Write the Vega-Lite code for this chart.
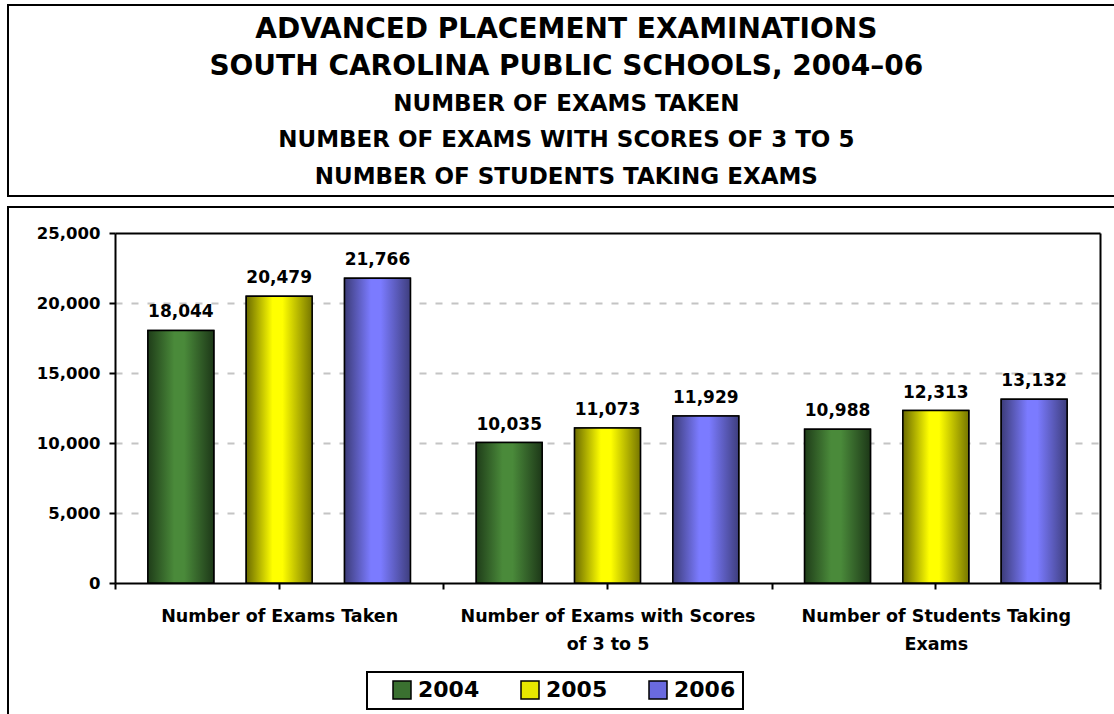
{
  "$schema": "https://vega.github.io/schema/vega-lite/v6.json",
  "padding": {"left": 7, "top": 4, "right": 0, "bottom": 0},
  "background": "white",
  "config": {
    "font": "DejaVu Sans",
    "view": {"stroke": "black", "strokeWidth": 2},
    "legend": {"strokeWidth": 2}
  },
  "datasets": {
    "titles": [
      {"line": 1, "level": "main", "text": "ADVANCED PLACEMENT EXAMINATIONS"},
      {"line": 2, "level": "main", "text": "SOUTH CAROLINA PUBLIC SCHOOLS, 2004–06"},
      {"line": 3, "level": "sub", "text": "NUMBER OF EXAMS TAKEN"},
      {"line": 4, "level": "sub", "text": "NUMBER OF EXAMS WITH SCORES OF 3 TO 5"},
      {"line": 5, "level": "sub", "text": "NUMBER OF STUDENTS TAKING EXAMS"}
    ],
    "ap": [
      {"cat": "Number of Exams Taken", "year": "2004", "value": 18044},
      {"cat": "Number of Exams Taken", "year": "2005", "value": 20479},
      {"cat": "Number of Exams Taken", "year": "2006", "value": 21766},
      {"cat": "Number of Exams with Scores of 3 to 5", "year": "2004", "value": 10035},
      {"cat": "Number of Exams with Scores of 3 to 5", "year": "2005", "value": 11073},
      {"cat": "Number of Exams with Scores of 3 to 5", "year": "2006", "value": 11929},
      {"cat": "Number of Students Taking Exams", "year": "2004", "value": 10988},
      {"cat": "Number of Students Taking Exams", "year": "2005", "value": 12313},
      {"cat": "Number of Students Taking Exams", "year": "2006", "value": 13132}
    ]
  },
  "spacing": 9,
  "vconcat": [
    {
      "width": 1110,
      "height": 191,
      "data": {"name": "titles"},
      "layer": [
        {
          "transform": [{"filter": "datum.level == 'main'"}],
          "mark": {"type": "text", "fontSize": 28, "fontWeight": "bold", "baseline": "middle", "dy": 3, "color": "black"},
          "encoding": {
            "x": {"datum": 0.503, "type": "quantitative", "scale": {"domain": [0, 1]}, "axis": null},
            "y": {"field": "line", "type": "ordinal", "scale": {"type": "point", "padding": 0.6}, "axis": null},
            "text": {"field": "text"}
          }
        },
        {
          "transform": [{"filter": "datum.level == 'sub'"}],
          "mark": {"type": "text", "fontSize": 23, "fontWeight": "bold", "baseline": "middle", "dy": 3, "color": "black"},
          "encoding": {
            "x": {"datum": 0.503, "type": "quantitative", "scale": {"domain": [0, 1]}, "axis": null},
            "y": {"field": "line", "type": "ordinal", "axis": null},
            "text": {"field": "text"}
          }
        }
      ]
    },
    {
      "width": 1110,
      "height": 512,
      "data": {"name": "ap"},
      "resolve": {"axis": {"x": "independent", "y": "independent"}},
      "layer": [
        {
          "mark": {"type": "bar", "stroke": "black", "strokeWidth": 1.5},
          "encoding": {
            "x": {
              "field": "cat", "type": "nominal",
              "sort": ["Number of Exams Taken", "Number of Exams with Scores of 3 to 5", "Number of Students Taking Exams"],
              "scale": {"range": [107, 1092], "paddingInner": 0, "paddingOuter": 0},
              "axis": {
                "title": null, "orient": "bottom", "offset": -136,
                "domainColor": "black", "domainWidth": 2,
                "tickColor": "black", "tickWidth": 2, "tickSize": 6, "tickBand": "extent",
                "labelFont": "DejaVu Sans", "labelFontWeight": "bold", "labelFontSize": 17.5, "labelColor": "black",
                "labelPadding": 18, "labelLineHeight": 28, "labelAngle": 0, "labelLimit": 400,
                "labelExpr": "datum.value == 'Number of Exams with Scores of 3 to 5' ? ['Number of Exams with Scores', 'of 3 to 5'] : datum.value == 'Number of Students Taking Exams' ? ['Number of Students Taking', 'Exams'] : datum.label"
              }
            },
            "xOffset": {"field": "year", "type": "nominal", "scale": {"paddingInner": 0.33, "paddingOuter": 0.335}},
            "y": {
              "field": "value", "type": "quantitative",
              "scale": {"domain": [0, 25000], "range": [376, 26], "nice": false},
              "axis": {
                "title": null, "orient": "left", "offset": -107,
                "values": [0, 5000, 10000, 15000, 20000, 25000], "format": ",d",
                "domainColor": "black", "domainWidth": 2,
                "tickColor": "black", "tickWidth": 2, "tickSize": 6,
                "labelFontSize": 16.5, "labelFontWeight": "bold", "labelColor": "black", "labelPadding": 9,
                "grid": true, "gridColor": "#c4c4c4", "gridDash": [7, 9], "gridWidth": 2,
                "gridOpacity": {"condition": {"test": "datum.value == 0 || datum.value == 25000", "value": 0}, "value": 1}
              }
            },
            "fill": {
              "field": "year", "type": "nominal",
              "scale": {"domain": ["2004", "2005", "2006"], "range": ["#3a7030", "#e6e600", "#6a6ae0"]},
              "legend": {
                "orient": "none", "legendX": 359, "legendY": 667, "direction": "horizontal",
                "title": " ", "titleOrient": "left", "titleFontSize": 10, "titlePadding": 17,
                "symbolType": "square", "symbolSize": 324, "symbolStrokeColor": "black", "symbolStrokeWidth": 1.5,
                "labelFontSize": 22, "labelFontWeight": "bold", "labelColor": "black", "labelOffset": 5,
                "labelExpr": "datum.label == '2006' ? '2006  ' : datum.label",
                "columnPadding": 38, "padding": 7, "strokeColor": "black"
              }
            }
          }
        },
        {
          "mark": {"type": "bar", "stroke": "black", "strokeWidth": 1.5},
          "encoding": {
            "x": {
              "field": "cat", "type": "nominal",
              "sort": ["Number of Exams Taken", "Number of Exams with Scores of 3 to 5", "Number of Students Taking Exams"],
              "axis": {"title": null, "orient": "bottom", "offset": -136, "domain": false, "labels": false, "ticks": true, "tickColor": "black", "tickWidth": 2, "tickSize": 6}
            },
            "xOffset": {"field": "year", "type": "nominal"},
            "y": {"field": "value", "type": "quantitative", "axis": null},
            "fill": {
              "condition": [
                {"test": "datum.year == '2004'", "value": {"gradient": "linear", "x1": 0, "y1": 0, "x2": 1, "y2": 0, "stops": [{"offset": 0, "color": "#1f3d19"}, {"offset": 0.4, "color": "#4a8a3a"}, {"offset": 0.55, "color": "#4a8a3a"}, {"offset": 1, "color": "#1d3818"}]}},
                {"test": "datum.year == '2005'", "value": {"gradient": "linear", "x1": 0, "y1": 0, "x2": 1, "y2": 0, "stops": [{"offset": 0, "color": "#6b6b00"}, {"offset": 0.4, "color": "#ffff00"}, {"offset": 0.55, "color": "#ffff00"}, {"offset": 1, "color": "#767600"}]}}
              ],
              "value": {"gradient": "linear", "x1": 0, "y1": 0, "x2": 1, "y2": 0, "stops": [{"offset": 0, "color": "#3c3c78"}, {"offset": 0.4, "color": "#7b7bff"}, {"offset": 0.55, "color": "#7b7bff"}, {"offset": 1, "color": "#3e3e7e"}]}
            }
          }
        },
        {
          "mark": {"type": "text", "fontSize": 17, "fontWeight": "bold", "baseline": "alphabetic", "dy": -13, "color": "black"},
          "encoding": {
            "x": {
              "field": "cat", "type": "nominal",
              "sort": ["Number of Exams Taken", "Number of Exams with Scores of 3 to 5", "Number of Students Taking Exams"],
              "axis": {"title": null, "orient": "top", "offset": -26, "ticks": false, "labels": false, "domainColor": "black", "domainWidth": 2}
            },
            "xOffset": {"field": "year", "type": "nominal"},
            "y": {
              "field": "value", "type": "quantitative",
              "axis": {"title": null, "orient": "right", "offset": -18, "ticks": false, "labels": false, "grid": false, "domainColor": "black", "domainWidth": 2}
            },
            "text": {"field": "value", "type": "quantitative", "format": ",d"}
          }
        }
      ]
    }
  ]
}
